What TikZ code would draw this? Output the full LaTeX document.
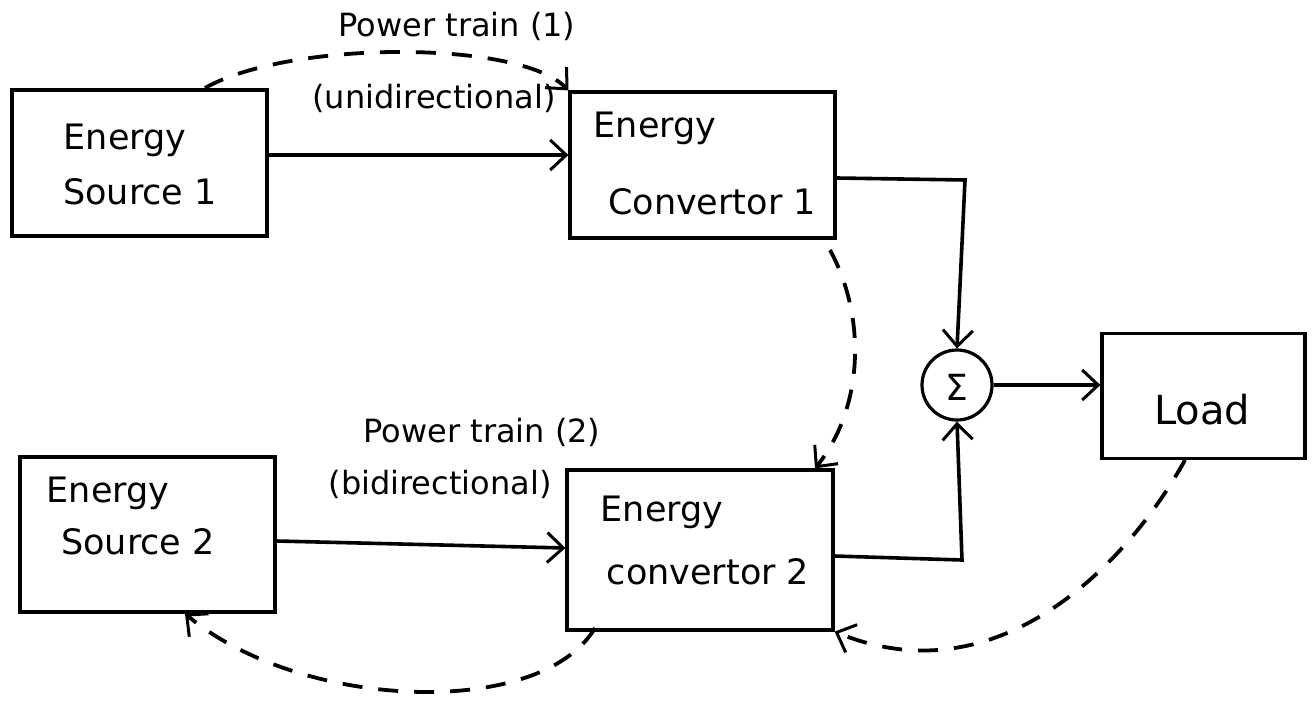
\documentclass[tikz,border=0pt]{standalone}
\usepackage{fontspec}
\setmainfont{DejaVu Sans}
\usetikzlibrary{arrows.meta,calc}
\begin{document}
\begin{tikzpicture}[x=1pt,y=-1pt,
  blk/.style={draw,line width=3.2pt,minimum width=#1,inner sep=0pt},
  txt/.style={font=\fontsize{35}{40}\selectfont,inner sep=0pt,anchor=center},
  lbl/.style={font=\fontsize{32}{36}\selectfont,inner sep=0pt,anchor=center},
  tip/.style={-{Straight Barb[length=16pt,width=30pt,line width=3pt]}},
  con/.style={line width=3.6pt,tip},
  dsh/.style={line width=3.8pt,dash pattern=on 20pt off 16pt,tip}]
\useasboundingbox (0,0) rectangle (1316,706);
% boxes
\node[blk=255pt,minimum height=146pt] (es1) at (139.5,163) {};
\node[blk=265pt,minimum height=146pt] (ec1) at (702.5,165) {};
\node[blk=255pt,minimum height=155pt] (es2) at (147.5,534.5) {};
\node[blk=266pt,minimum height=160pt] (ec2) at (700,550) {};
\node[blk=203pt,minimum height=125pt] (load) at (1203.5,396) {};
\node[draw,circle,line width=3.2pt,minimum size=70pt,inner sep=0pt] (sum) at (957,385) {};
% texts
\node[txt] (t1a) at (125,140) {Energy};
\node[txt] (t1b) at (140,192) {Source 1};
\node[txt] (t2a) at (655,128) {Energy};
\node[txt] (t2b) at (712,202) {Convertor 1};
\node[txt] (t3a) at (108,493) {Energy};
\node[txt] (t3b) at (138,542) {Source 2};
\node[txt] (t4a) at (662,512) {Energy};
\node[txt] (t4b) at (708,572) {convertor 2};
\node[font=\fontsize{40}{44}\selectfont,inner sep=0pt] (t5) at (1202,410) {Load};
\node[font=\fontsize{36}{40}\selectfont,inner sep=0pt] (sig) at (957,387) {Σ};
% labels
\node[lbl] (p1) at (457,26) {Power train (1)};
\node[lbl] (p1b) at (434,98) {(unidirectional)};
\node[lbl] (p2) at (482,432) {Power train (2)};
\node[lbl] (p2b) at (440,484) {(bidirectional)};
% solid connectors
\draw[con] (es1.east |- 0,155) -- (ec1.west |- 0,155);
\draw[con] (es2.east |- 0,541) -- (ec2.west |- 0,548);
\draw[con] (ec1.east |- 0,178) -- (965,180) -- (sum.north);
\draw[con] (ec2.east |- 0,556) -- (962,560) -- (sum.south);
\draw[con] (sum.east) -- (load.west |- sum.east);
% dashed connectors
\coordinate (d1s) at (205,88);
\draw[dsh] (d1s) .. controls (290,40) and (520,40) .. (ec1.north west);
\coordinate (d2s) at (830,250);
\draw[dsh] (d2s) .. controls (868,320) and (862,410) .. (ec2.north west -| 815,0);
\coordinate (d3s) at (595,628);
\draw[dsh] (d3s) .. controls (540,720) and (300,710) .. (es2.south -| 185,0);
\coordinate (d4s) at (1185,460);
\draw[dsh] (d4s) .. controls (1130,560) and (1000,700) .. (ec2.south east);
\end{tikzpicture}
\end{document}
